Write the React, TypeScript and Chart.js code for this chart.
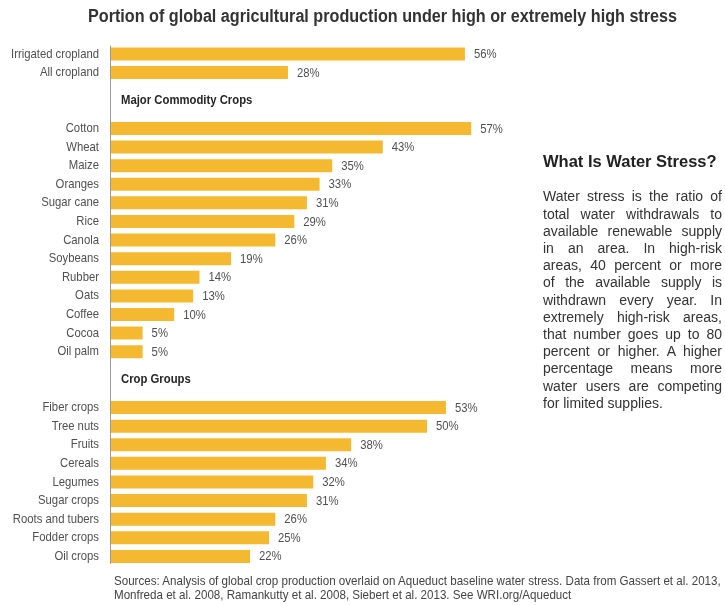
import { useEffect, useRef } from 'react';
import { Chart, registerables } from 'chart.js';

Chart.register(...registerables);

const TITLE = 'Portion of global agricultural production under high or extremely high stress';

const overviewLabels = ['Irrigated cropland', 'All cropland'];
const overviewValues = [56, 28];

const commodityHeader = 'Major Commodity Crops';
const commodityLabels = [
  'Cotton', 'Wheat', 'Maize', 'Oranges', 'Sugar cane', 'Rice', 'Canola',
  'Soybeans', 'Rubber', 'Oats', 'Coffee', 'Cocoa', 'Oil palm',
];
const commodityValues = [57, 43, 35, 33, 31, 29, 26, 19, 14, 13, 10, 5, 5];

const groupHeader = 'Crop Groups';
const groupLabels = [
  'Fiber crops', 'Tree nuts', 'Fruits', 'Cereals', 'Legumes', 'Sugar crops',
  'Roots and tubers', 'Fodder crops', 'Oil crops',
];
const groupValues = [53, 50, 38, 34, 32, 31, 26, 25, 22];

const sideHeading = 'What Is Water Stress?';
const sideLines = [
  'Water stress is the ratio of',
  'total water withdrawals to',
  'available renewable supply',
  'in an area. In high-risk',
  'areas, 40 percent or more',
  'of the available supply is',
  'withdrawn every year. In',
  'extremely high-risk areas,',
  'that number goes up to 80',
  'percent or higher. A higher',
  'percentage means more',
  'water users are competing',
  'for limited supplies.',
];

const sourceLines = [
  'Sources: Analysis of global crop production overlaid on Aqueduct baseline water stress. Data from Gassert et al. 2013,',
  'Monfreda et al. 2008, Ramankutty et al. 2008, Siebert et al. 2013. See WRI.org/Aqueduct',
];

const SANS = "'Liberation Sans', Arial, sans-serif";
const BAR_COLOR = '#F4B930';
const LABEL_COLOR = '#505050';
// horizontal squeeze that gives the plain sans face a condensed look
const CONDENSE = 0.87;

// Assemble rows: each section header takes two empty category slots.
const rowLabels: string[] = [];
const rowValues: (number | null)[] = [];
const sectionHeaders: { text: string; index: number }[] = [];

function addSection(header: string | null, labels: string[], values: number[]) {
  if (header) {
    sectionHeaders.push({ text: header, index: rowLabels.length });
    rowLabels.push('', '');
    rowValues.push(null, null);
  }
  labels.forEach((l, i) => {
    rowLabels.push(l);
    rowValues.push(values[i]);
  });
}
addSection(null, overviewLabels, overviewValues);
addSection(commodityHeader, commodityLabels, commodityValues);
addSection(groupHeader, groupLabels, groupValues);

function condensedText(ctx: CanvasRenderingContext2D, text: string, x: number, y: number, k: number) {
  ctx.save();
  ctx.translate(x, y);
  ctx.scale(k, 1);
  ctx.fillText(text, 0, 0);
  ctx.restore();
}

const measureCanvas = typeof document !== 'undefined' ? document.createElement('canvas') : null;
function textWidth(text: string, font: string) {
  const c = measureCanvas!.getContext('2d')!;
  c.font = font;
  return c.measureText(text).width;
}

const annotate = {
  id: 'annotate',
  beforeDraw(chart: any) {
    // squeeze the category tick labels about their right edge
    const y = chart.scales.y;
    if (y && !y.__condensed) {
      const orig = y.drawLabels.bind(y);
      // the squeezed labels stay inside the canvas, so skip the label clip box
      y._computeLabelArea = () => undefined;
      y.drawLabels = (area: any) => {
        const ctx = chart.ctx;
        const pivot = y.right - y.options.ticks.padding;
        ctx.save();
        ctx.translate(pivot, 0);
        ctx.scale(CONDENSE, 1);
        ctx.translate(-pivot, 0);
        orig(area);
        ctx.restore();
      };
      y.__condensed = true;
    }
  },
  beforeDatasetsDraw(chart: any) {
    const meta = chart.getDatasetMeta(0);
    const bars = meta.data.filter((_: any, i: number) => rowValues[i] !== null);
    if (!bars.length) return;
    const first = bars[0];
    const last = bars[bars.length - 1];
    const x = Math.round(chart.chartArea.left) - 0.5;
    const { ctx } = chart;
    ctx.save();
    ctx.strokeStyle = '#9a9a9a';
    ctx.lineWidth = 1;
    ctx.beginPath();
    ctx.moveTo(x, first.y - first.height / 2 - 2);
    ctx.lineTo(x, last.y + last.height / 2 + 1);
    ctx.stroke();
    ctx.restore();
  },
  afterDatasetsDraw(chart: any) {
    const { ctx } = chart;
    const meta = chart.getDatasetMeta(0);
    const yScale = chart.scales.y;
    ctx.save();
    ctx.textAlign = 'left';
    ctx.textBaseline = 'middle';
    // value labels
    ctx.font = `13px ${SANS}`;
    ctx.fillStyle = LABEL_COLOR;
    meta.data.forEach((bar: any, i: number) => {
      const v = rowValues[i];
      if (v === null) return;
      condensedText(ctx, `${v}%`, bar.x + 9, bar.y + 0.5, CONDENSE);
    });
    // section headers
    ctx.font = `bold 13px ${SANS}`;
    ctx.fillStyle = '#262626';
    sectionHeaders.forEach((h) => {
      const y = (yScale.getPixelForValue(h.index) + yScale.getPixelForValue(h.index + 1)) / 2;
      condensedText(ctx, h.text, chart.chartArea.left + 10, y, CONDENSE);
    });
    // title, squeezed to its printed width
    ctx.font = `bold 17.5px ${SANS}`;
    ctx.fillStyle = '#333333';
    ctx.textAlign = 'center';
    const k = 589 / ctx.measureText(TITLE).width;
    condensedText(ctx, TITLE, 382.5, 17, k);
    ctx.restore();
  },
};

function StressChart() {
  const ref = useRef<HTMLCanvasElement | null>(null);
  useEffect(() => {
    if (!ref.current) return;
    const chart = new Chart(ref.current, {
      type: 'bar',
      data: {
        labels: rowLabels,
        datasets: [
          {
            data: rowValues,
            backgroundColor: BAR_COLOR,
            borderWidth: 0,
            barPercentage: 0.7,
            categoryPercentage: 1,
          },
        ],
      },
      options: {
        indexAxis: 'y',
        animation: false,
        responsive: false,
        devicePixelRatio: 1,
        layout: { padding: { top: 44.7, bottom: 39.3, left: 0, right: 108.4 } },
        plugins: {
          legend: { display: false },
          tooltip: { enabled: false },
          title: { display: false },
        },
        scales: {
          x: { display: false, min: 0, max: 80 },
          y: {
            type: 'category',
            grid: { display: false, drawTicks: false },
            border: { display: false },
            ticks: {
              autoSkip: false,
              padding: 12,
              color: LABEL_COLOR,
              font: { family: SANS, size: 13 },
            },
            afterFit(scale: any) {
              scale.width = 111;
            },
          },
        },
      },
      plugins: [annotate],
    });
    return () => chart.destroy();
  }, []);
  return <canvas ref={ref} width={725} height={605} style={{ display: 'block' }} />;
}

const SOURCE_FONT_SIZE = 13;
const sourceScale = measureCanvas
  ? 608 / textWidth(sourceLines[0], `${SOURCE_FONT_SIZE}px ${SANS}`)
  : CONDENSE;

export default function App() {
  return (
    <div style={{ position: 'absolute', left: 0, top: 0, width: 725, height: 605, background: '#fff', overflow: 'hidden' }}>
      <StressChart />
      <div
        style={{
          position: 'absolute',
          left: 543,
          top: 151,
          fontFamily: SANS,
          fontWeight: 'bold',
          fontSize: 16.5,
          lineHeight: '20px',
          color: '#222',
          whiteSpace: 'nowrap',
        }}
      >
        {sideHeading}
      </div>
      <div
        style={{
          position: 'absolute',
          left: 543,
          top: 188.4,
          width: 179,
          fontFamily: SANS,
          fontSize: 14,
          lineHeight: '17.2px',
          color: '#333',
        }}
      >
        {sideLines.map((line, i) => (
          <div
            key={i}
            style={{
              textAlign: 'justify',
              textAlignLast: i === sideLines.length - 1 ? 'left' : 'justify',
              whiteSpace: 'nowrap',
            }}
          >
            {line}
          </div>
        ))}
      </div>
      <div
        style={{
          position: 'absolute',
          left: 114,
          top: 574,
          fontFamily: SANS,
          fontSize: SOURCE_FONT_SIZE,
          lineHeight: '13.6px',
          color: '#444',
          whiteSpace: 'nowrap',
          transform: `scaleX(${sourceScale})`,
          transformOrigin: '0 0',
        }}
      >
        {sourceLines.map((line, i) => (
          <div key={i}>{line}</div>
        ))}
      </div>
    </div>
  );
}
